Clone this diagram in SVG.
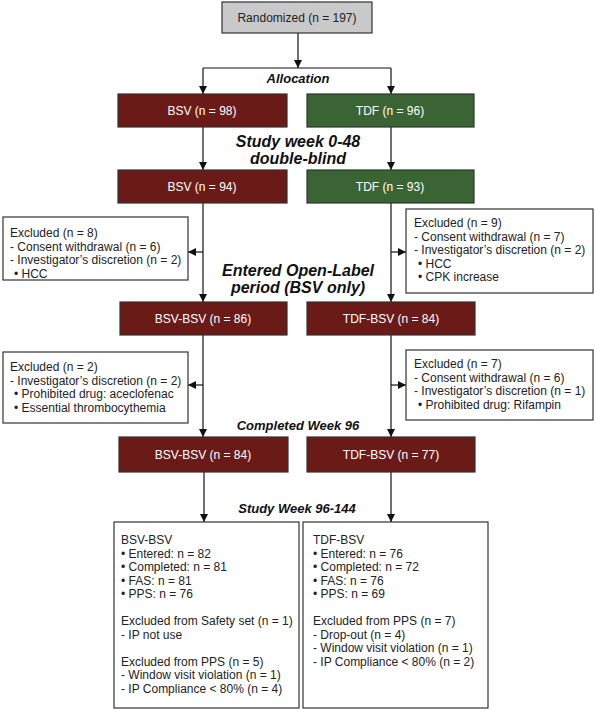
<svg xmlns="http://www.w3.org/2000/svg" width="595" height="712" viewBox="0 0 595 712">
<defs>
<marker id="ah" viewBox="0 0 10 10" refX="10" refY="5" markerWidth="8" markerHeight="8" markerUnits="userSpaceOnUse" orient="auto">
<path d="M0,0 L10,5 L0,10 z" fill="#111"/>
</marker>
<style>
.box{stroke:#333;stroke-width:1.2}
.gray{fill:#c9c9c9}
.red{fill:#6a1b18}
.green{fill:#3b6434}
.white{fill:#fff}
text{font-family:"Liberation Sans",Arial,sans-serif;font-size:12px}
.c{text-anchor:middle}
.w{fill:#fff}
.k{fill:#222}
.lbl{font-weight:bold;font-style:italic;fill:#111;text-anchor:middle}
.big{font-size:16px}
.mid{font-size:13px}
.cn{fill:none;stroke:#111;stroke-width:1.2}
</style>
</defs>
<rect width="595" height="712" fill="#fff"/>

<g id="connectors">
<path class="cn" d="M298,33 V68" marker-end="url(#ah)"/>
<path class="cn" d="M203,68 H391"/>
<path class="cn" d="M203,68 V94" marker-end="url(#ah)"/>
<path class="cn" d="M391,68 V94" marker-end="url(#ah)"/>
<path class="cn" d="M203,127 V170" marker-end="url(#ah)"/>
<path class="cn" d="M391,127 V170" marker-end="url(#ah)"/>
<path class="cn" d="M203,203 V302" marker-end="url(#ah)"/>
<path class="cn" d="M203,252 H188" marker-end="url(#ah)"/>
<path class="cn" d="M391,203 V302" marker-end="url(#ah)"/>
<path class="cn" d="M391,252 H406" marker-end="url(#ah)"/>
<path class="cn" d="M203,335 V437" marker-end="url(#ah)"/>
<path class="cn" d="M203,385 H188" marker-end="url(#ah)"/>
<path class="cn" d="M391,335 V437" marker-end="url(#ah)"/>
<path class="cn" d="M391,385 H406" marker-end="url(#ah)"/>
<path class="cn" d="M204,472 V522" marker-end="url(#ah)"/>
<path class="cn" d="M391,472 V522" marker-end="url(#ah)"/>
</g>

<g id="labels">
<text class="lbl mid" x="298" y="83">Allocation</text>
<text class="lbl big" x="298" y="147">Study week 0-48</text>
<text class="lbl big" x="298" y="164">double-blind</text>
<text class="lbl big" x="298" y="276">Entered Open-Label</text>
<text class="lbl big" x="298" y="293">period  (BSV only)</text>
<text class="lbl mid" x="298" y="430">Completed Week 96</text>
<text class="lbl mid" x="297" y="513">Study Week 96-144</text>
</g>

<g id="randomized">
<rect class="box gray" x="222" y="2" width="150" height="31"/>
<text class="c k" x="297" y="22">Randomized (n = 197)</text>
</g>

<g id="bsv98">
<rect class="box red" x="118" y="94" width="169" height="33"/>
<text class="c w" x="202" y="115">BSV (n = 98)</text>
</g>
<g id="tdf96">
<rect class="box green" x="307" y="94" width="167" height="33"/>
<text class="c w" x="390" y="115">TDF (n = 96)</text>
</g>

<g id="bsv94">
<rect class="box red" x="118" y="170" width="169" height="33"/>
<text class="c w" x="202" y="191">BSV (n = 94)</text>
</g>
<g id="tdf93">
<rect class="box green" x="307" y="170" width="167" height="33"/>
<text class="c w" x="390" y="191">TDF (n = 93)</text>
</g>

<g id="excl-left-1">
<rect class="box white" x="3" y="217" width="185" height="63"/>
<text class="k" x="10" y="237">Excluded (n = 8)</text>
<text class="k" x="10" y="250.5">- Consent withdrawal (n = 6)</text>
<text class="k" x="10" y="264">- Investigator’s discretion (n = 2)</text>
<text class="k" x="14" y="277.5">• HCC</text>
</g>
<g id="excl-right-1">
<rect class="box white" x="406" y="209" width="187" height="84"/>
<text class="k" x="414" y="227">Excluded (n = 9)</text>
<text class="k" x="414" y="240.5">- Consent withdrawal (n = 7)</text>
<text class="k" x="414" y="254">- Investigator’s discretion (n = 2)</text>
<text class="k" x="418" y="267.5">• HCC</text>
<text class="k" x="418" y="281">• CPK increase</text>
</g>

<g id="bsvbsv86">
<rect class="box red" x="120" y="302" width="167" height="33"/>
<text class="c w" x="203" y="323">BSV-BSV (n = 86)</text>
</g>
<g id="tdfbsv84">
<rect class="box red" x="307" y="302" width="168" height="33"/>
<text class="c w" x="391" y="323">TDF-BSV (n = 84)</text>
</g>

<g id="excl-left-2">
<rect class="box white" x="3" y="352" width="185" height="71"/>
<text class="k" x="10" y="371">Excluded (n = 2)</text>
<text class="k" x="10" y="384.5">- Investigator’s discretion (n = 2)</text>
<text class="k" x="14" y="398">• Prohibited drug: aceclofenac</text>
<text class="k" x="14" y="411.5">• Essential thrombocythemia</text>
</g>
<g id="excl-right-2">
<rect class="box white" x="406" y="350" width="187" height="70"/>
<text class="k" x="414" y="368">Excluded (n = 7)</text>
<text class="k" x="414" y="381.5">- Consent withdrawal (n = 6)</text>
<text class="k" x="414" y="395">- Investigator’s discretion (n = 1)</text>
<text class="k" x="418" y="408.5">• Prohibited drug: Rifampin</text>
</g>

<g id="bsvbsv84">
<rect class="box red" x="119" y="437" width="169" height="35"/>
<text class="c w" x="203" y="459">BSV-BSV (n = 84)</text>
</g>
<g id="tdfbsv77">
<rect class="box red" x="307" y="437" width="168" height="35"/>
<text class="c w" x="391" y="459">TDF-BSV (n = 77)</text>
</g>

<g id="final-bsv">
<rect class="box white" x="114" y="522" width="185" height="186"/>
<text class="k" x="121" y="544">BSV-BSV</text>
<text class="k" x="121" y="557.5">• Entered: n = 82</text>
<text class="k" x="121" y="571">• Completed: n = 81</text>
<text class="k" x="121" y="584.5">• FAS: n = 81</text>
<text class="k" x="121" y="598">• PPS: n = 76</text>
<text class="k" x="121" y="625">Excluded from Safety set (n = 1)</text>
<text class="k" x="121" y="638.5">- IP not use</text>
<text class="k" x="121" y="665.5">Excluded from PPS (n = 5)</text>
<text class="k" x="121" y="679">- Window visit violation (n  = 1)</text>
<text class="k" x="121" y="692.5">- IP Compliance &lt; 80% (n = 4)</text>
</g>
<g id="final-tdf">
<rect class="box white" x="303" y="522" width="185" height="186"/>
<text class="k" x="313" y="544">TDF-BSV</text>
<text class="k" x="313" y="557.5">• Entered: n = 76</text>
<text class="k" x="313" y="571">• Completed: n = 72</text>
<text class="k" x="313" y="584.5">• FAS: n = 76</text>
<text class="k" x="313" y="598">• PPS: n = 69</text>
<text class="k" x="313" y="625">Excluded from PPS (n = 7)</text>
<text class="k" x="313" y="638.5">- Drop-out (n = 4)</text>
<text class="k" x="313" y="652">- Window visit violation (n  = 1)</text>
<text class="k" x="313" y="665.5">- IP Compliance &lt; 80% (n = 2)</text>
</g>
</svg>
